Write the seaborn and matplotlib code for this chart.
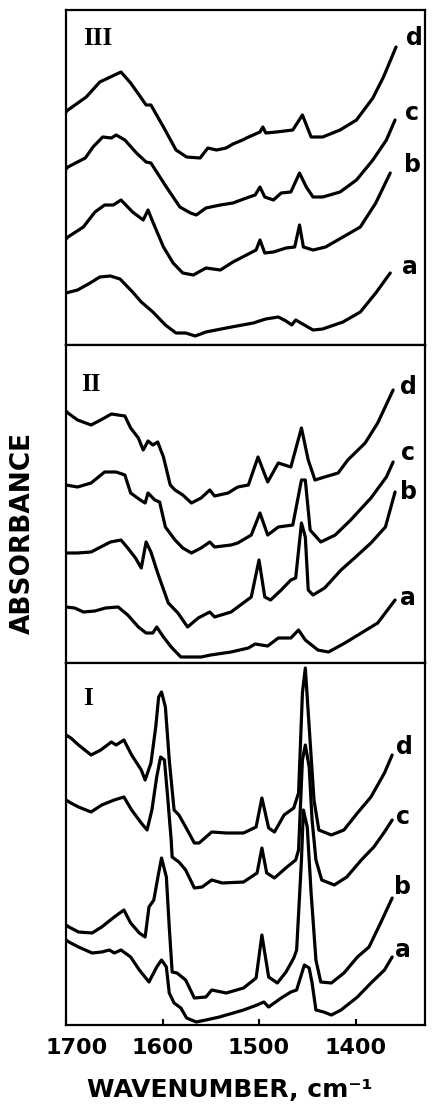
import numpy as np
import pandas as pd
import matplotlib
matplotlib.use("Agg")
import matplotlib.pyplot as plt
from matplotlib.transforms import ScaledTranslation
import seaborn as sns

# ---------------- data (wavenumber, cm-1 ; absorbance, arbitrary offset units) -------------
# Panel III
III_d_wn = [1700, 1698, 1679, 1665, 1654, 1643, 1633, 1622, 1617, 1612, 1599, 1586, 1575, 1561, 1553, 1544, 1534, 1527, 1517, 1513, 1499, 1496, 1493, 1482, 1465, 1455, 1446, 1434, 1416, 1399, 1382, 1371, 1358]
III_d_A  = [2.33, 2.35, 2.48, 2.63, 2.68, 2.73, 2.62, 2.47, 2.40, 2.40, 2.18, 1.95, 1.88, 1.87, 1.97, 1.95, 1.97, 2.01, 2.05, 2.07, 2.13, 2.18, 2.12, 2.13, 2.15, 2.30, 2.08, 2.08, 2.15, 2.25, 2.47, 2.68, 2.98]
III_c_wn = [1700, 1698, 1680, 1672, 1662, 1653, 1648, 1639, 1627, 1617, 1612, 1596, 1582, 1571, 1565, 1555, 1540, 1527, 1513, 1504, 1499, 1494, 1485, 1477, 1467, 1458, 1451, 1444, 1434, 1416, 1399, 1382, 1368, 1359]
III_c_A  = [1.76, 1.78, 1.87, 1.98, 2.08, 2.07, 2.10, 2.05, 1.92, 1.83, 1.82, 1.58, 1.38, 1.32, 1.30, 1.37, 1.40, 1.42, 1.47, 1.50, 1.58, 1.48, 1.45, 1.52, 1.53, 1.72, 1.58, 1.48, 1.48, 1.53, 1.65, 1.85, 2.05, 2.25]
III_b_wn = [1700, 1698, 1682, 1670, 1660, 1651, 1643, 1631, 1620, 1615, 1610, 1599, 1589, 1579, 1568, 1555, 1540, 1527, 1509, 1503, 1499, 1494, 1485, 1472, 1463, 1458, 1454, 1444, 1431, 1413, 1395, 1379, 1364]
III_b_A  = [1.06, 1.08, 1.18, 1.33, 1.40, 1.40, 1.45, 1.33, 1.25, 1.35, 1.23, 0.98, 0.82, 0.72, 0.70, 0.77, 0.75, 0.83, 0.92, 0.95, 1.05, 0.92, 0.93, 0.97, 0.98, 1.20, 0.98, 0.95, 0.98, 1.08, 1.18, 1.42, 1.72]
III_a_wn = [1700, 1688, 1675, 1665, 1654, 1644, 1631, 1622, 1610, 1597, 1586, 1576, 1566, 1555, 1534, 1506, 1493, 1480, 1472, 1466, 1462, 1444, 1434, 1413, 1395, 1379, 1364]
III_a_A  = [0.52, 0.55, 0.62, 0.68, 0.69, 0.66, 0.53, 0.43, 0.33, 0.20, 0.12, 0.12, 0.09, 0.13, 0.17, 0.22, 0.26, 0.28, 0.24, 0.20, 0.25, 0.15, 0.16, 0.23, 0.33, 0.52, 0.72]

# Panel II
II_d_wn = [1700, 1698, 1688, 1674, 1664, 1653, 1639, 1633, 1625, 1620, 1615, 1610, 1605, 1599, 1592, 1587, 1579, 1570, 1560, 1551, 1546, 1532, 1522, 1511, 1501, 1491, 1480, 1467, 1456, 1449, 1442, 1432, 1418, 1408, 1390, 1377, 1361]
II_d_A  = [2.52, 2.50, 2.43, 2.38, 2.43, 2.49, 2.47, 2.35, 2.25, 2.13, 2.22, 2.18, 2.21, 2.06, 1.78, 1.73, 1.68, 1.60, 1.65, 1.73, 1.67, 1.70, 1.76, 1.78, 2.06, 1.81, 2.00, 1.96, 2.35, 2.03, 1.83, 1.86, 1.90, 2.03, 2.20, 2.40, 2.73]
II_c_wn = [1700, 1688, 1674, 1660, 1648, 1639, 1633, 1623, 1618, 1615, 1608, 1603, 1597, 1587, 1579, 1570, 1560, 1551, 1546, 1529, 1522, 1508, 1499, 1491, 1480, 1465, 1456, 1452, 1447, 1436, 1421, 1405, 1384, 1368, 1361]
II_c_A  = [1.78, 1.76, 1.80, 1.91, 1.91, 1.88, 1.70, 1.63, 1.60, 1.70, 1.63, 1.61, 1.36, 1.23, 1.15, 1.10, 1.15, 1.21, 1.16, 1.18, 1.20, 1.28, 1.50, 1.28, 1.36, 1.38, 1.83, 1.83, 1.33, 1.21, 1.28, 1.43, 1.65, 1.86, 2.01]
II_b_wn = [1700, 1688, 1674, 1664, 1654, 1643, 1636, 1628, 1622, 1617, 1612, 1605, 1594, 1584, 1574, 1563, 1551, 1546, 1529, 1522, 1508, 1500, 1494, 1488, 1477, 1467, 1462, 1456, 1452, 1449, 1444, 1432, 1415, 1401, 1384, 1369, 1359]
II_b_A  = [1.10, 1.10, 1.11, 1.16, 1.21, 1.23, 1.15, 1.05, 0.95, 1.21, 1.11, 0.90, 0.60, 0.50, 0.36, 0.45, 0.51, 0.46, 0.51, 0.56, 0.66, 1.03, 0.66, 0.63, 0.73, 0.83, 0.85, 1.40, 1.26, 0.73, 0.68, 0.75, 0.93, 1.05, 1.20, 1.36, 1.71]
II_a_wn = [1700, 1691, 1682, 1670, 1659, 1646, 1636, 1625, 1617, 1610, 1606, 1599, 1591, 1581, 1570, 1560, 1550, 1529, 1511, 1504, 1491, 1480, 1467, 1459, 1452, 1439, 1428, 1411, 1394, 1377, 1359]
II_a_A  = [0.56, 0.55, 0.51, 0.52, 0.55, 0.56, 0.48, 0.36, 0.30, 0.30, 0.36, 0.26, 0.16, 0.06, 0.06, 0.06, 0.08, 0.11, 0.15, 0.19, 0.17, 0.25, 0.25, 0.33, 0.23, 0.13, 0.11, 0.20, 0.30, 0.40, 0.63]

# Panel I
I_d_wn = [1700, 1695, 1687, 1674, 1664, 1653, 1648, 1640, 1632, 1622, 1618, 1612, 1607, 1604, 1601, 1597, 1593, 1588, 1583, 1576, 1567, 1562, 1549, 1534, 1516, 1503, 1497, 1490, 1484, 1474, 1464, 1459, 1455, 1452, 1448, 1443, 1438, 1425, 1412, 1398, 1384, 1370, 1362]
I_d_A  = [2.90, 2.87, 2.80, 2.70, 2.75, 2.83, 2.80, 2.85, 2.70, 2.55, 2.45, 2.62, 2.98, 3.28, 3.33, 3.18, 2.65, 2.15, 2.10, 1.98, 1.82, 1.82, 1.93, 1.92, 1.92, 1.98, 2.27, 1.97, 1.93, 2.10, 2.17, 2.32, 3.32, 3.57, 2.98, 2.25, 1.95, 1.90, 1.95, 2.12, 2.28, 2.52, 2.70]
I_c_wn = [1700, 1695, 1687, 1674, 1663, 1650, 1640, 1632, 1622, 1616, 1611, 1606, 1602, 1598, 1595, 1591, 1590, 1583, 1576, 1567, 1559, 1549, 1538, 1516, 1502, 1497, 1492, 1484, 1471, 1462, 1459, 1455, 1452, 1448, 1445, 1441, 1435, 1422, 1409, 1394, 1381, 1370, 1362]
I_c_A  = [2.25, 2.22, 2.18, 2.13, 2.20, 2.25, 2.28, 2.15, 2.02, 1.95, 2.15, 2.48, 2.68, 2.65, 2.32, 1.85, 1.68, 1.63, 1.55, 1.37, 1.38, 1.45, 1.42, 1.43, 1.52, 1.77, 1.52, 1.47, 1.58, 1.65, 1.75, 2.65, 2.80, 2.58, 2.05, 1.65, 1.45, 1.40, 1.48, 1.65, 1.78, 1.93, 2.05]
I_b_wn = [1700, 1697, 1687, 1673, 1663, 1650, 1640, 1633, 1624, 1618, 1614, 1609, 1604, 1601, 1596, 1593, 1590, 1585, 1576, 1567, 1555, 1549, 1534, 1516, 1503, 1497, 1490, 1481, 1472, 1464, 1461, 1456, 1454, 1450, 1446, 1441, 1436, 1425, 1412, 1398, 1386, 1374, 1362]
I_b_A  = [1.00, 0.98, 0.93, 0.92, 0.98, 1.08, 1.15, 1.02, 0.92, 0.88, 1.18, 1.25, 1.52, 1.67, 1.48, 0.98, 0.53, 0.52, 0.45, 0.27, 0.28, 0.35, 0.32, 0.37, 0.47, 0.90, 0.48, 0.42, 0.53, 0.67, 0.75, 1.65, 2.15, 1.98, 1.32, 0.65, 0.43, 0.42, 0.52, 0.68, 0.78, 1.02, 1.27]
I_a_wn = [1700, 1697, 1687, 1673, 1663, 1655, 1650, 1643, 1633, 1624, 1614, 1606, 1601, 1596, 1593, 1588, 1581, 1575, 1565, 1555, 1541, 1516, 1502, 1495, 1490, 1477, 1467, 1461, 1453, 1448, 1445, 1441, 1433, 1425, 1415, 1398, 1384, 1370, 1362]
I_a_A  = [0.85, 0.83, 0.78, 0.72, 0.73, 0.75, 0.72, 0.75, 0.68, 0.55, 0.43, 0.58, 0.65, 0.58, 0.32, 0.22, 0.17, 0.07, 0.03, 0.05, 0.08, 0.15, 0.20, 0.23, 0.18, 0.27, 0.33, 0.35, 0.60, 0.57, 0.42, 0.15, 0.13, 0.10, 0.15, 0.28, 0.42, 0.55, 0.68]

panel_names = ["III", "II", "I"]
curve_names = ["a", "b", "c", "d"]
x_ticks = [1700, 1600, 1500, 1400]
x_tick_labels = ["1700", "1600", "1500", "1400"]

series = {
    "III": {"a": (III_a_wn, III_a_A), "b": (III_b_wn, III_b_A), "c": (III_c_wn, III_c_A), "d": (III_d_wn, III_d_A)},
    "II":  {"a": (II_a_wn, II_a_A), "b": (II_b_wn, II_b_A), "c": (II_c_wn, II_c_A), "d": (II_d_wn, II_d_A)},
    "I":   {"a": (I_a_wn, I_a_A), "b": (I_b_wn, I_b_A), "c": (I_c_wn, I_c_A), "d": (I_d_wn, I_d_A)},
}

rows = []
for p in panel_names:
    for c in curve_names:
        wn, A = series[p][c]
        for i, (w, a) in enumerate(zip(wn, A)):
            rows.append((p, c, i, w, a))
df = pd.DataFrame(rows, columns=["panel", "curve", "idx", "wn", "A"])

# ---------------- layout ----------------
sns.set_style("white")
plt.rcParams["font.family"] = ["DejaVu Sans"]
plt.rcParams["text.color"] = "black"
plt.rcParams["xtick.color"] = "black"
plt.rcParams["axes.labelcolor"] = "black"

W, H = 432, 1107
fig = plt.figure(figsize=(W / 100, H / 100), dpi=100)
left_px, right_px = 66, 425
boxes = {"III": (10, 345), "II": (345, 663), "I": (663, 1025)}
ylims = {"III": 3.35, "II": 3.18, "I": 3.62}
label_pos = {"III": (0.088, 0.915), "II": (0.070, 0.877), "I": (0.060, 0.903)}
letter_pos = {
    "III": {"d": (1339, 3.07), "c": (1341, 2.32), "b": (1341, 1.80), "a": (1344, 0.78)},
    "II":  {"d": (1345, 2.76), "c": (1346, 2.10), "b": (1345, 1.71), "a": (1346, 0.65)},
    "I":   {"d": (1349, 2.78), "c": (1351, 2.08), "b": (1351, 1.38), "a": (1351, 0.75)},
}
xmax = 1700
xmin = 1700 - (right_px - left_px) / 0.965

for p in panel_names:
    top, bot = boxes[p]
    ax = fig.add_axes([left_px / W, 1 - bot / H, (right_px - left_px) / W, (bot - top) / H])
    sub = df[df.panel == p]
    sns.lineplot(data=sub, x="wn", y="A", units="curve", estimator=None, sort=False,
                 color="black", linewidth=2.3, ax=ax, legend=False)
    ax.set_xlim(xmax, xmin)
    ax.set_ylim(0, ylims[p])
    ax.set_yticks([])
    ax.set_xlabel("")
    ax.set_ylabel("")
    for s in ax.spines.values():
        s.set_linewidth(1.6)
        s.set_color("black")
    ax.text(*label_pos[p], p, transform=ax.transAxes, ha="center", va="center",
            fontsize=18, fontweight="bold", color="black",
            family=["Liberation Serif", "DejaVu Serif"])
    for c in curve_names:
        lx, ly = letter_pos[p][c]
        ax.text(lx, ly, c, ha="center", va="center", fontsize=17, fontweight="bold",
                color="black")
    if p == "I":
        ax.set_xticks(x_ticks)
        ax.set_xticklabels(x_tick_labels, fontsize=16, fontweight="bold")
        ax.tick_params(axis="x", direction="in", length=4, width=1.5, pad=9, bottom=True,
                       colors="black")
        lab0 = ax.get_xticklabels()[0]
        lab0.set_transform(lab0.get_transform() + ScaledTranslation(0.11, 0, fig.dpi_scale_trans))
    else:
        ax.set_xticks([])

fig.text(0.053, 1 - 533 / H, "ABSORBANCE", rotation=90, ha="center", va="center",
         fontsize=19, fontweight="bold", color="black")
fig.text(0.532, 1 - 1090 / H, "WAVENUMBER, cm⁻¹", ha="center", va="center",
         fontsize=18, fontweight="bold", color="black")

fig.savefig("out.png", dpi=100)
